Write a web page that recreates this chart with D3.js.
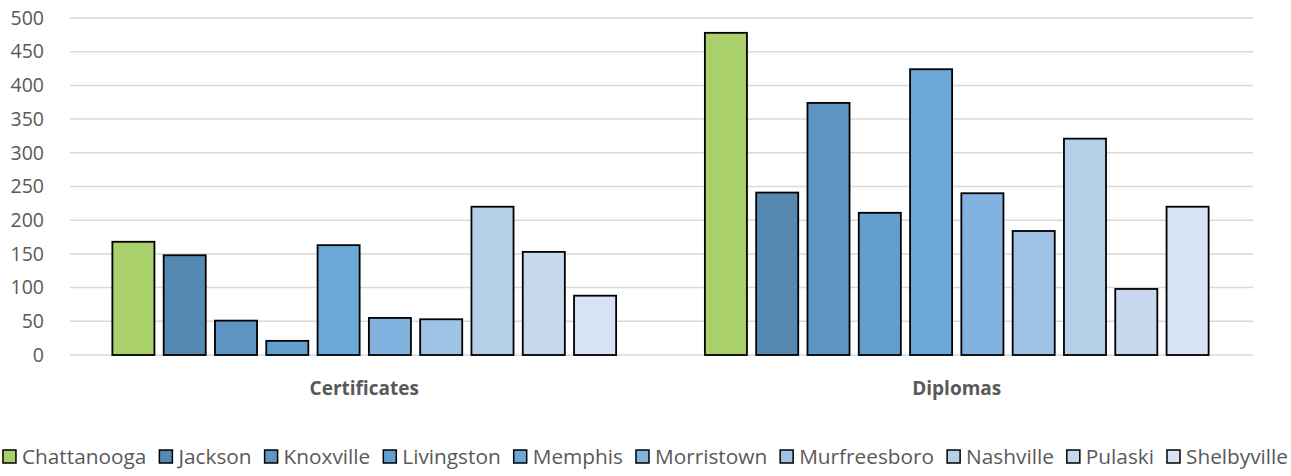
<!DOCTYPE html>
<html>
<head>
<meta charset="utf-8">
<script src="https://cdn.jsdelivr.net/npm/d3@7"></script>
<style>
  body { margin: 0; background: #fff; }
  text { font-family: "Open Sans", Lato, sans-serif; fill: #595959; }
</style>
</head>
<body>
<div id="chart"></div>
<script>
// data
var categories = ["Certificates", "Diplomas"];
var cities = ["Chattanooga", "Jackson", "Knoxville", "Livingston", "Memphis",
              "Morristown", "Murfreesboro", "Nashville", "Pulaski", "Shelbyville"];
var certificates = [168, 148, 51, 21, 163, 55, 53, 220, 153, 88];
var diplomas = [478, 241, 374, 211, 424, 240, 184, 321, 98, 220];
var yTicks = [0, 50, 100, 150, 200, 250, 300, 350, 400, 450, 500];
var colors = ["#a9d06b", "#5589b1", "#5f95c3", "#639fcc", "#6aa8d8",
              "#82b3e0", "#9fc3e4", "#b5cfe9", "#c7d8ee", "#d7e2f2"];

var W = 1291, H = 476;
var margin = {top: 18, right: 38, bottom: 121, left: 68};
var width = W - margin.left - margin.right,
    height = H - margin.top - margin.bottom;

var svg = d3.select("#chart")
  .append("svg")
    .attr("width", W)
    .attr("height", H)
  .append("g")
    .attr("transform", "translate(" + margin.left + "," + margin.top + ")");

var values = {Certificates: certificates, Diplomas: diplomas};
var data = categories.map(function(c) {
  return {cat: c, vals: cities.map(function(k, i) { return {city: k, v: values[c][i]}; })};
});

var y = d3.scaleLinear().domain([0, 500]).range([height, 0]);

var x0 = d3.scaleBand().domain(categories).range([0, width]).padding(0);
var x1 = d3.scaleBand().domain(cities).range([0, x0.bandwidth()])
  .paddingInner(0.18).paddingOuter(0.865);

var color = d3.scaleOrdinal().domain(cities).range(colors);

// gridlines
svg.append("g")
  .selectAll("line")
  .data(yTicks)
  .enter().append("line")
    .attr("x1", 2).attr("x2", width)
    .attr("y1", function(d) { return y(d); })
    .attr("y2", function(d) { return y(d); })
    .attr("stroke", "#d9d9d9")
    .attr("stroke-width", 1.5);

// y axis labels
var yAxis = svg.append("g")
  .call(d3.axisLeft(y).tickValues(yTicks).tickSize(0).tickPadding(24));
yAxis.select(".domain").remove();
yAxis.selectAll("text")
  .attr("font-size", "19.5px")
  .style("font-family", "'Open Sans', Lato, sans-serif")
  .attr("fill", "#595959");

// bars
svg.append("g")
  .selectAll("g")
  .data(data)
  .enter().append("g")
    .attr("transform", function(d) { return "translate(" + x0(d.cat) + ",0)"; })
  .selectAll("rect")
  .data(function(d) { return d.vals; })
  .enter().append("rect")
    .attr("x", function(d) { return x1(d.city); })
    .attr("y", function(d) { return y(d.v); })
    .attr("width", x1.bandwidth())
    .attr("height", function(d) { return y(0) - y(d.v); })
    .attr("fill", function(d) { return color(d.city); })
    .attr("stroke", "#000")
    .attr("stroke-width", 1.8);

// category labels
svg.append("g")
  .selectAll("text")
  .data(categories)
  .enter().append("text")
    .attr("x", function(d) { return x0(d) + x0.bandwidth() / 2; })
    .attr("y", height + 40)
    .attr("text-anchor", "middle")
    .attr("font-size", "19px")
    .attr("font-weight", "bold")
    .text(function(d) { return d; });

// legend
var legend = d3.select("svg").append("g")
  .attr("transform", "translate(0,457)");

var items = legend.selectAll("g")
  .data(cities)
  .enter().append("g");

items.append("rect")
  .attr("x", 0).attr("y", -7)
  .attr("width", 13).attr("height", 13)
  .attr("fill", function(d) { return color(d); })
  .attr("stroke", "#000")
  .attr("stroke-width", 1.5);

items.append("text")
  .attr("x", 19)
  .attr("y", 0)
  .attr("dy", "0.35em")
  .attr("font-size", "20.8px")
  .text(function(d) { return d; });

var pos = 0, gap = 13, xs = [];
items.each(function() {
  xs.push(pos);
  pos += 19 + d3.select(this).select("text").node().getComputedTextLength() + gap;
});
var total = pos - gap;
var start = (W - total) / 2;
items.attr("transform", function(d, i) { return "translate(" + (start + xs[i]) + ",0)"; });
</script>
</body>
</html>
